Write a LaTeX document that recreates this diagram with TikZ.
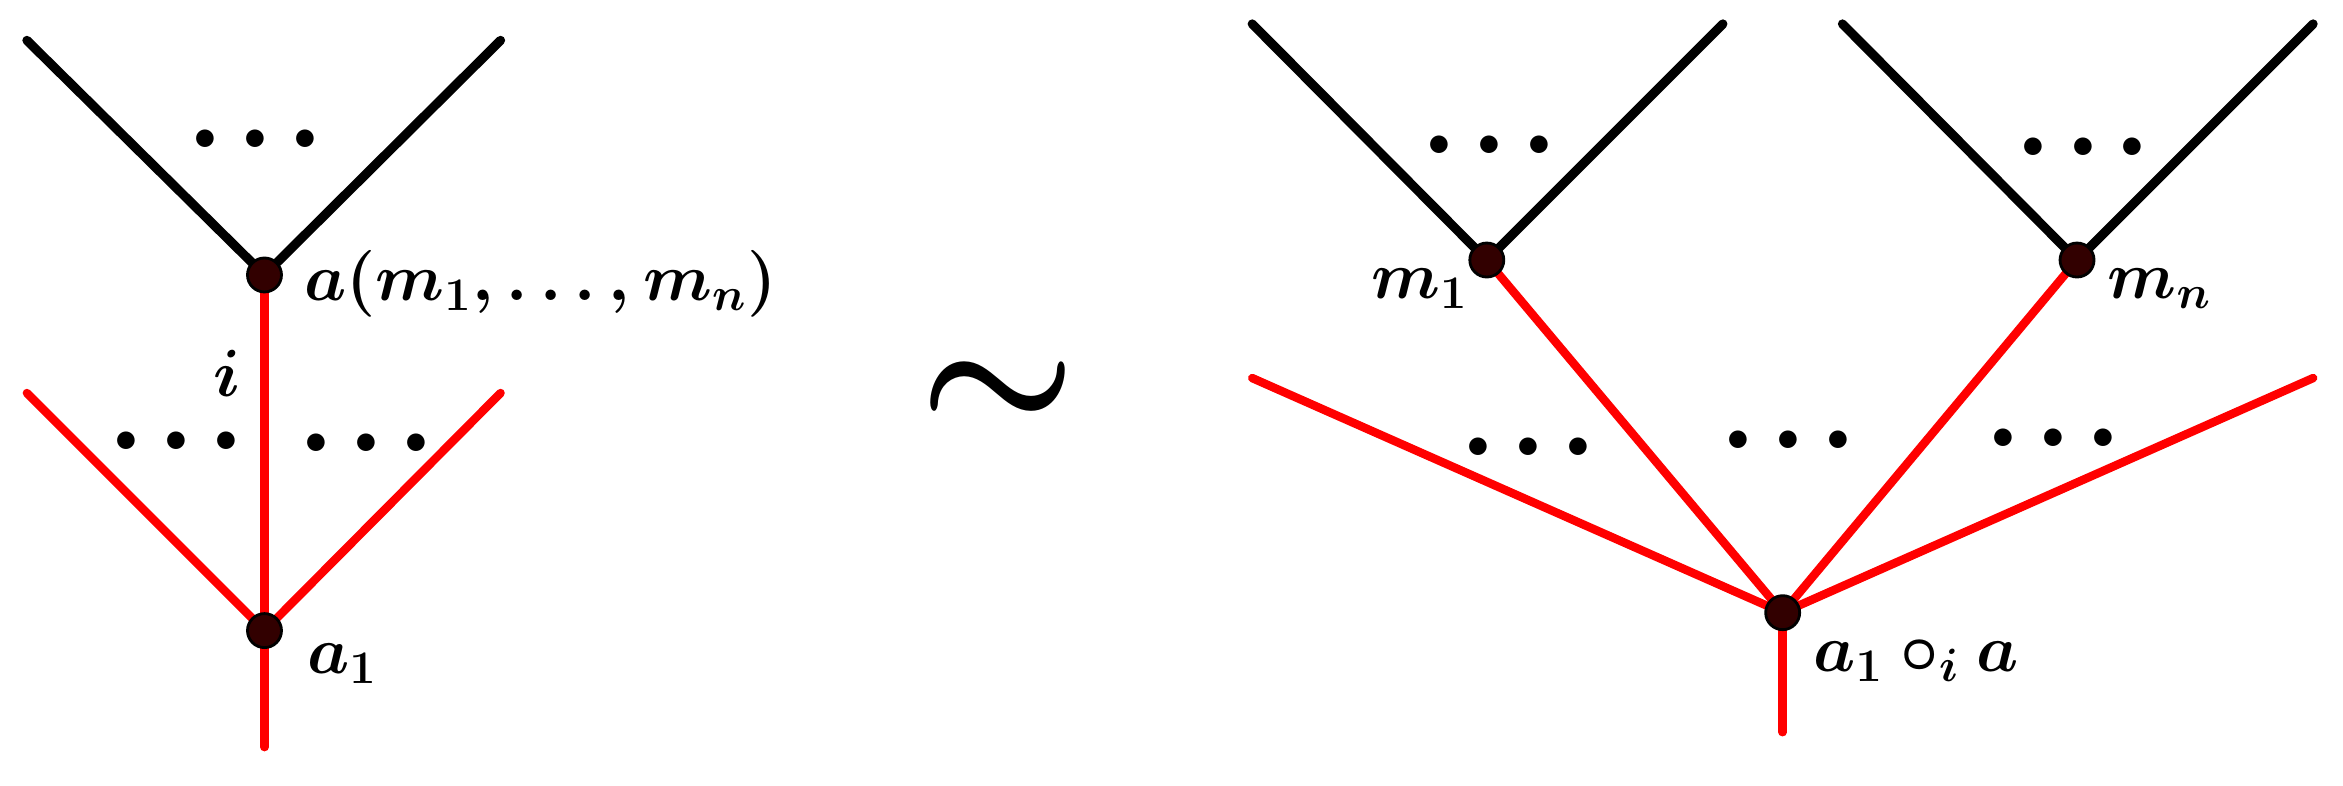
\documentclass[tikz,border=0pt]{standalone}
\usepackage{fix-cm}
\usepackage{amsmath}
\usetikzlibrary{positioning,backgrounds}
\definecolor{vertexfill}{RGB}{50,0,0}
\newcommand{\dotrow}{$.\hspace{4pt}.\hspace{4pt}.$}

\begin{document}
\begin{tikzpicture}[
        x=0.14943mm, y=-0.14943mm,
        vertex/.style = {circle, draw=black, line width=0.8pt, fill=vertexfill, minimum size=3.4mm, inner sep=0pt},
        lbl/.style = {inner sep=0pt, font=\fontsize{19}{22}\selectfont\boldmath},
        dotlbl/.style = {inner sep=0pt, font=\fontsize{32}{36}\selectfont\boldmath},
        blackedge/.style = {draw=black, line width=2.6pt, line cap=round},
        rededge/.style = {draw=red, line width=2.4pt, line cap=round}
    ]
 \useasboundingbox (0,0) rectangle (1568,526);
 % left tree
 \node[vertex] (a)  at (177,184) {};
 \node[vertex] (a1) at (177,422) {};
 \coordinate (tl) at (18,27);   \coordinate (tr) at (335,27);
 \coordinate (rl) at (18,263);  \coordinate (rr) at (335,263);
 \coordinate (root1) at (177,500);
 % right tree
 \node[vertex] (m1) at (995,174) {};
 \node[vertex] (mn) at (1390,174) {};
 \node[vertex] (b)  at (1193,410) {};
 \coordinate (m1l) at (838,16);  \coordinate (m1r) at (1153,16);
 \coordinate (mnl) at (1233,16); \coordinate (mnr) at (1548,16);
 \coordinate (bl) at (838,253);  \coordinate (br) at (1548,253);
 \coordinate (root2) at (1193,490);

 \begin{scope}[on background layer]
  \draw[blackedge] (tl) -- (a.center) -- (tr);
  \draw[rededge] (a.center) -- (a1.center) -- (root1);
  \draw[rededge] (rl) -- (a1.center) -- (rr);
  \draw[blackedge] (m1l) -- (m1.center) -- (m1r);
  \draw[blackedge] (mnl) -- (mn.center) -- (mnr);
  \draw[rededge] (m1.center) -- (b.center) -- (mn.center);
  \draw[rededge] (bl) -- (b.center) -- (br);
  \draw[rededge] (b.center) -- (root2);
 \end{scope}

 % labels
 \node[lbl, anchor=west] (alabel) at (203,190) {$a(m_1,\ldots,m_n)$};
 \node[lbl] (ilabel) at (152,250) {$i$};
 \node[lbl, anchor=west] (a1label) at (205,444) {$a_1$};
 \node[lbl, anchor=east] (m1label) at (983,193) {$m_1$};
 \node[lbl, anchor=west] (mnlabel) at (1410,193) {$m_n$};
 \node[lbl, anchor=west] (blabel) at (1213,442) {$a_1\circ_i a$};
 \node[font=\fontsize{50}{55}\selectfont\boldmath] (sim) at (668,265) {$\sim$};

 % dots
 \node[dotlbl] (d1) at (171,93) {\dotrow};
 \node[dotlbl] (d2) at (118,295) {\dotrow};
 \node[dotlbl] (d3) at (245,296) {\dotrow};
 \node[dotlbl] (d4) at (997,97) {\dotrow};
 \node[dotlbl] (d5) at (1394,98) {\dotrow};
 \node[dotlbl] (d6) at (1023,299) {\dotrow};
 \node[dotlbl] (d7) at (1197,294) {\dotrow};
 \node[dotlbl] (d8) at (1374,293) {\dotrow};
\end{tikzpicture}
\end{document}
